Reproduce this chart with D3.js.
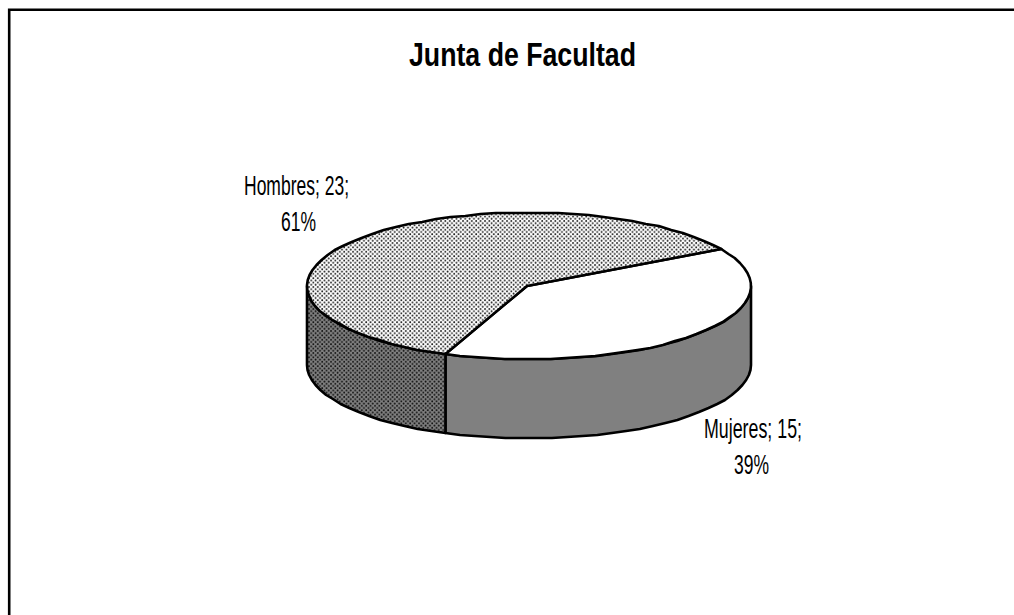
<!DOCTYPE html>
<html><head><meta charset="utf-8">
<style>html,body{margin:0;padding:0;background:#fff}svg{display:block}</style>
<script src="https://cdn.jsdelivr.net/npm/d3@7/dist/d3.min.js"></script>
</head><body><svg id="c" width="1014" height="615"></svg>
<script>
const categories = ["Mujeres", "Hombres"];
const values = [15, 23];
const percents = ["39%", "61%"];
const titleText = "Junta de Facultad";

const svg = d3.select("#c");
const cx = 529, cy = 286, rx = 222, ry = 73.5, depth = 79;
const sx = d3.scaleLinear().domain([-1, 1]).range([cx - rx, cx + rx]);
const sy = d3.scaleLinear().domain([-1, 1]).range([cy - ry, cy + ry]);
const px = a => sx(Math.sin(a));
const py = a => Math.round(sy(-Math.cos(a)));
const line = d3.line().x(d => d[0]).y(d => d[1]);
const pie = d3.pie().sort(null).startAngle(Math.PI / 3).endAngle(Math.PI / 3 + 2 * Math.PI);
const arcs = pie(values);

const defs = svg.append("defs");
function pattern(id, bg, dot) {
  const s = 4.4;
  const p = defs.append("pattern").attr("id", id).attr("patternUnits", "userSpaceOnUse")
    .attr("width", s).attr("height", s);
  p.append("rect").attr("width", s).attr("height", s).attr("fill", bg);
  p.append("circle").attr("cx", 1).attr("cy", 1).attr("r", 0.95).attr("fill", dot);
  p.append("circle").attr("cx", 1 + s / 2).attr("cy", 1 + s / 2).attr("r", 0.95).attr("fill", dot);
}
pattern("dotTop", "#ffffff", "#222222");
pattern("dotSide", "#808080", "#111111");

// frame
svg.append("path").attr("d", "M9.2,615V9.8H1014").attr("fill", "none").attr("stroke", "#000").attr("stroke-width", 2.6);

// sampled angle helper (geometry only): coarse facets, like the original outline
const samples = (a0, a1) => {
  const n = Math.max(2, Math.round((a1 - a0) / (Math.PI / 45)));
  return d3.range(0, n + 1).map(i => a0 + (a1 - a0) * i / n);
};

const topFill = ["#ffffff", "url(#dotTop)"];
const sideFill = ["#808080", "url(#dotSide)"];

arcs.forEach((d, i) => {
  let a0 = Math.max(d.startAngle, Math.PI / 2), a1 = Math.min(d.endAngle, 3 * Math.PI / 2);
  if (a1 <= a0) return;
  const ang = samples(a0, a1);
  const pts = ang.map(a => [px(a), py(a)]).concat(ang.slice().reverse().map(a => [px(a), py(a) + depth]));
  svg.append("path").attr("d", line(pts) + "Z").attr("fill", sideFill[i])
    .attr("stroke", "#000").attr("stroke-width", 2.6).attr("stroke-linejoin", "round");
});

arcs.forEach((d, i) => {
  const pts = [[cx - 2, cy]].concat(samples(d.startAngle, d.endAngle).map(a => [px(a), py(a)]));
  svg.append("path").attr("d", line(pts) + "Z").attr("fill", topFill[i])
    .attr("stroke", "#000").attr("stroke-width", 2.6).attr("stroke-linejoin", "round");
});

function label(t, x0, x1, base, size, weight) {
  svg.append("text").attr("x", x0).attr("y", base).text(t)
    .attr("font-family", "'Liberation Sans', Arial, sans-serif")
    .attr("font-size", size).attr("font-weight", weight).attr("fill", "#000")
    .attr("textLength", x1 - x0).attr("lengthAdjust", "spacingAndGlyphs");
}
label(titleText, 409, 636, 66, 34, "bold");
label(`${categories[1]}; ${values[1]};`, 244, 349, 195, 27, "normal");
label(percents[1], 281, 316, 231, 27, "normal");
label(`${categories[0]}; ${values[0]};`, 704, 802, 438, 27, "normal");
label(percents[0], 734, 769, 474, 27, "normal");
</script></body></html>
